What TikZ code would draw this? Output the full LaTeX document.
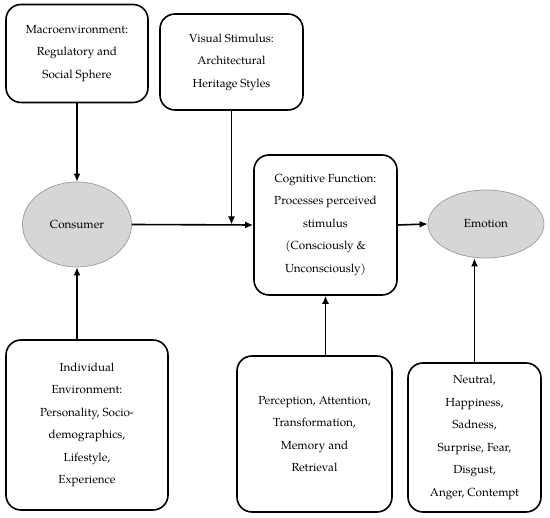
\documentclass[tikz,border=0pt]{standalone}
\usepackage{fontspec}
\setmainfont{TeX Gyre Pagella}
\usetikzlibrary{arrows.meta,shapes.geometric}
\definecolor{ellfill}{HTML}{D6D6D6}
\definecolor{elldraw}{HTML}{9A9A9A}
\begin{document}
\begin{tikzpicture}[x=1pt,y=-1pt,
  box/.style={draw=black,line width=1.6pt,rounded corners=15pt,align=center,inner sep=0pt,
    font=\fontsize{11.7}{22.5}\selectfont},
  ell/.style={ellipse,fill=ellfill,draw=elldraw,line width=0.7pt,inner sep=0pt,
    font=\fontsize{11.7}{14}\selectfont},
  arr/.style={-{Latex[length=8pt,width=7pt]},line width=1.6pt}]
\useasboundingbox (0,0) rectangle (550,518);
\node[box,minimum width=142pt,minimum height=98pt] (macro) at (77,53.5)
  {Macroenvironment:\\Regulatory and\\Social Sphere};
\node[box,minimum width=143pt,minimum height=96pt] (visual) at (231.5,62)
  {Visual Stimulus:\\Architectural\\Heritage Styles};
\node[box,minimum width=143pt,minimum height=140pt] (cog) at (325.5,225)
  {Cognitive Function:\\Processes perceived\\stimulus\\(Consciously \&\\Unconsciously)};
\node[box,minimum width=162pt,minimum height=170pt] (indiv) at (87,425)
  {Individual\\Environment:\\Personality, Socio-\\demographics,\\Lifestyle,\\Experience};
\node[box,minimum width=155pt,minimum height=156pt] (perc) at (314.5,434)
  {Perception, Attention,\\Transformation,\\Memory and\\Retrieval};
\node[box,minimum width=133pt,minimum height=149pt] (emos) at (474.5,437.5)
  {Neutral,\\Happiness,\\Sadness,\\Surprise, Fear,\\Disgust,\\Anger, Contempt};
\node[ell,minimum width=109pt,minimum height=85pt] (consumer) at (77,224.5) {Consumer};
\node[ell,minimum width=116pt,minimum height=68pt] (emo) at (486,224) {Emotion};
\draw[arr] (macro.south) -- (consumer.north);
\draw[arr] (consumer.south |- indiv.north) -- (consumer.south);
\draw[arr] (consumer.east) -- (cog.west);
\draw[arr] (visual.south) -- (visual.south |- consumer.east);
\draw[arr] (cog.east) -- (emo.west);
\draw[arr] (cog.south |- perc.north) -- (cog.south);
\draw[arr] (emos.north) -- (emos.north |- emo.south);
\end{tikzpicture}
\end{document}
